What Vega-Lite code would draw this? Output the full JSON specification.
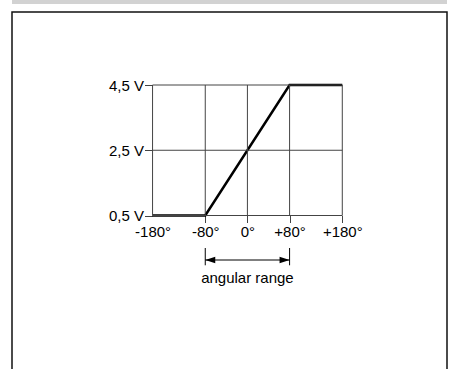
{
  "$schema": "https://vega.github.io/schema/vega-lite/v6.json",
  "padding": {"left": 11, "top": 0, "right": 0, "bottom": 0},
  "spacing": 7,
  "config": {
    "font": "Liberation Sans",
    "view": {"stroke": null},
    "axis": {"title": null, "grid": false, "domain": false, "labelFont": "Liberation Sans", "labelFontSize": 15, "labelColor": "#000", "tickColor": "#444", "tickWidth": 1}
  },
  "vconcat": [
    {
      "width": 435,
      "height": 4,
      "view": {"fill": "#d2d2d2", "stroke": null},
      "data": {"values": []},
      "mark": "point",
      "encoding": {}
    },
    {
      "width": 435,
      "height": 359,
      "view": {"stroke": "#111", "strokeWidth": 1.5},
      "layer": [
        {
          "data": {"values": [
            {"angle": -180, "volt": 0.5},
            {"angle": -80, "volt": 0.5},
            {"angle": 80, "volt": 4.5},
            {"angle": 180, "volt": 4.5}
          ]},
          "mark": {"type": "line", "color": "#000", "strokeWidth": 2.5, "strokeJoin": "miter", "zindex": 2},
          "encoding": {
            "x": {"field": "angle", "type": "quantitative", "scale": {"domain": [-446.7, 378.7], "nice": false, "zero": false},
              "axis": {"values": [-180, -80, 0, 80, 180], "labelExpr": "(datum.value > 0 ? '+' : '') + datum.value + '°'", "offset": -155.5, "tickSize": 7, "labelPadding": 2,
                "tickOpacity": {"condition": {"test": "datum.value === -180", "value": 0}, "value": 1}}},
            "y": {"field": "volt", "type": "quantitative", "scale": {"domain": [-4.266, 6.7375], "nice": false, "zero": false},
              "axis": {"values": [0.5, 2.5, 4.5], "labelExpr": "replace(format(datum.value, '.1f'), '.', ',') + ' V'", "offset": -140.5, "tickSize": 8, "labelPadding": 1}}
          }
        },
        {
          "data": {"values": [{"a": -180}, {"a": -80}, {"a": 0}, {"a": 80}, {"a": 180}]},
          "mark": {"type": "rule", "color": "#444", "strokeWidth": 1},
          "encoding": {
            "x": {"field": "a", "type": "quantitative"},
            "y": {"datum": 0.5, "type": "quantitative"},
            "y2": {"datum": 4.5}
          }
        },
        {
          "data": {"values": [{"v": 0.5}, {"v": 2.5}, {"v": 4.5}]},
          "mark": {"type": "rule", "color": "#444", "strokeWidth": 1},
          "encoding": {
            "y": {"field": "v", "type": "quantitative"},
            "x": {"datum": -180, "type": "quantitative"},
            "x2": {"datum": 180}
          }
        },
        {
          "data": {"values": [{"a": -80}, {"a": 80}]},
          "mark": {"type": "rule", "color": "#000", "strokeWidth": 1},
          "encoding": {
            "x": {"field": "a", "type": "quantitative"},
            "y": {"datum": -0.496, "type": "quantitative"},
            "y2": {"datum": -1.026}
          }
        },
        {
          "data": {"values": [{"from": -80, "to": 80, "level": -0.864}]},
          "mark": {"type": "rule", "color": "#000", "strokeWidth": 1},
          "encoding": {
            "x": {"field": "from", "type": "quantitative"},
            "x2": {"field": "to"},
            "y": {"field": "level", "type": "quantitative"}
          }
        },
        {
          "data": {"values": [
            {"a": -70.5, "level": -0.864, "dir": "left"},
            {"a": 70.5, "level": -0.864, "dir": "right"}
          ]},
          "mark": {"type": "point", "filled": true, "color": "#000", "opacity": 1, "size": 100, "strokeWidth": 0},
          "encoding": {
            "x": {"field": "a", "type": "quantitative"},
            "y": {"field": "level", "type": "quantitative"},
            "shape": {"field": "dir", "type": "nominal", "scale": {"domain": ["left", "right"], "range": ["M-1,0L1,-0.65L1,0.65Z", "M1,0L-1,-0.65L-1,0.65Z"]}, "legend": null}
          }
        },
        {
          "data": {"values": [{"a": 0, "level": -1.406, "label": "angular range"}]},
          "mark": {"type": "text", "font": "Liberation Sans", "fontSize": 15, "color": "#000", "baseline": "middle", "align": "center"},
          "encoding": {
            "x": {"field": "a", "type": "quantitative"},
            "y": {"field": "level", "type": "quantitative"},
            "text": {"field": "label"}
          }
        }
      ]
    }
  ]
}
